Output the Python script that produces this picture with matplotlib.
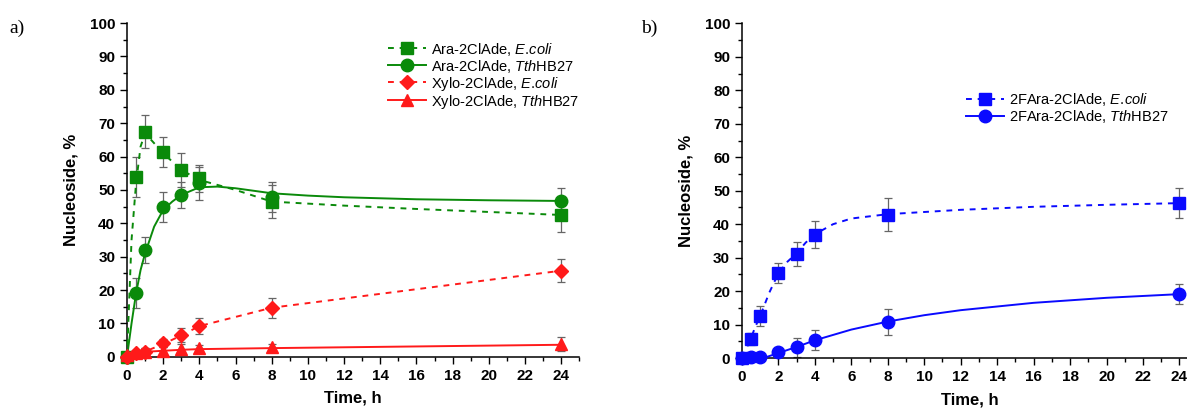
import matplotlib
matplotlib.use('Agg')
import matplotlib.pyplot as plt
from matplotlib.ticker import MultipleLocator

plt.rcParams['font.family'] = ['Liberation Sans', 'DejaVu Sans']
plt.rcParams['mathtext.fontset'] = 'custom'
plt.rcParams['mathtext.it'] = 'Liberation Sans:italic'
plt.rcParams['mathtext.rm'] = 'Liberation Sans'

# ---- panel a: measured points ----
t_a = [0, 0.5, 1, 2, 3, 4, 8, 24]
ara_ecoli = [0, 54, 67.5, 61.5, 56, 53.5, 46.5, 42.5]
ara_ecoli_err = [0, 6, 5, 4.5, 5, 4, 5, 5]
ara_tth = [0, 19, 32, 45, 48.5, 52, 48, 46.7]
ara_tth_err = [0, 4.5, 4, 4.5, 4, 5, 4.5, 4]
xylo_ecoli = [0, 1, 1.5, 4, 6.5, 9.2, 14.7, 25.8]
xylo_ecoli_err = [0, 0.8, 1, 1.2, 2, 2.5, 3, 3.5]
xylo_tth = [0.5, 1.2, 1.5, 1.8, 2.2, 2.5, 2.8, 3.8]
xylo_tth_err = [0, 0.8, 1, 1.2, 1.5, 1, 1, 2]

# panel a: fitted curves
fit_t_ara_ecoli = [0, 0.25, 0.5, 0.75, 1, 1.5, 2, 3, 4, 5, 6, 8, 12, 16, 20, 24]
fit_ara_ecoli = [0, 35, 52, 63, 67, 64, 61, 56, 53, 51.5, 50, 46.5, 45.3, 44.3, 43.4, 42.5]
fit_t_ara_tth = [0, 0.25, 0.5, 0.75, 1, 1.5, 2, 2.5, 3, 4, 5, 6, 8, 10, 12, 16, 20, 24]
fit_ara_tth = [0, 10, 19, 26, 31, 39, 44, 46.5, 48.5, 50.8, 51, 50.5, 49, 48.3, 47.8, 47.2, 46.9, 46.7]
fit_t_xylo_ecoli = [0, 0.5, 1, 2, 3, 4, 8, 24]
fit_xylo_ecoli = [0, 1, 1.6, 3.8, 6.4, 9.2, 14.7, 25.8]
fit_t_xylo_tth = [0, 0.5, 1, 2, 3, 4, 8, 16, 24]
fit_xylo_tth = [0, 1.1, 1.5, 1.8, 2.1, 2.3, 2.6, 3.1, 3.6]

# ---- panel b: measured points ----
t_b = [0, 0.5, 1, 2, 3, 4, 8, 24]
fara_ecoli = [0, 5.7, 12.6, 25.4, 31.1, 36.9, 42.9, 46.3]
fara_ecoli_err = [0, 1.8, 3, 3, 3.5, 4, 5, 4.5]
fara_tth = [0, 0.3, 0.2, 1.7, 3.2, 5.3, 10.8, 19.1]
fara_tth_err = [0, 0.3, 0.3, 1, 2.8, 3, 4, 3]

fit_t_fara_ecoli = [0.3, 0.5, 0.75, 1, 1.5, 2, 2.5, 3, 3.5, 4, 5, 6, 8, 12, 16, 20, 24]
fit_fara_ecoli = [3.5, 6, 9.5, 12.5, 19.5, 25.3, 28.8, 31.3, 34.5, 37, 40, 41.7, 43, 44.3, 45.2, 45.8, 46.3]
fit_t_fara_tth = [0, 1, 1.3, 2, 3, 4, 6, 8, 10, 12, 16, 20, 24]
fit_fara_tth = [0, 0, 0.2, 1.5, 3.3, 5.3, 8.5, 10.9, 12.8, 14.3, 16.5, 18, 19.1]

x_ticks = list(range(0, 25, 2))
y_ticks = list(range(0, 101, 10))

green = '#0a8a0a'
red = '#ff1a1a'
blue = '#0a0aff'
errc = '#666666'

fig = plt.figure(figsize=(11.87, 4.12), dpi=100)
ax1 = fig.add_axes([0.107, 0.134, 0.381, 0.810])
ax2 = fig.add_axes([0.625, 0.131, 0.384, 0.812])


def style(ax):
    ax.set_xlim(0, 25)
    ax.set_ylim(0, 100)
    ax.spines['top'].set_visible(False)
    ax.spines['right'].set_visible(False)
    for sp in ax.spines.values():
        sp.set_linewidth(1.1)
    ax.set_xticks(x_ticks, labels=[str(v) for v in x_ticks], fontweight='bold', fontsize=11)
    ax.set_yticks(y_ticks, labels=[str(v) for v in y_ticks], fontweight='bold', fontsize=11)
    ax.xaxis.set_minor_locator(MultipleLocator(1))
    ax.yaxis.set_minor_locator(MultipleLocator(5))
    ax.tick_params(which='major', length=5, width=1)
    ax.tick_params(which='minor', length=3, width=1)
    ax.set_xlabel('Time, h', fontsize=12, fontweight='bold', labelpad=6)
    ax.set_ylabel('Nucleoside, %', fontsize=12, fontweight='bold', labelpad=8)


def series(ax, t, y, e, ft, fy, color, marker, ls, ms, label):
    ax.errorbar(t, y, yerr=e, fmt='none', ecolor=errc, elinewidth=0.9, capsize=3, capthick=0.9, zorder=2)
    ax.plot(ft, fy, color=color, ls=ls, lw=1.4, zorder=3)
    ax.plot(t, y, marker=marker, ls='none', color=color, ms=ms, zorder=4)
    ax.plot([], [], color=color, ls=ls, lw=1.4, marker=marker, ms=ms, label=label)


ecoli = r'$\mathit{E.\!coli}$'
tth = r'$\mathit{Tth}$HB27'

series(ax1, t_a, ara_ecoli, ara_ecoli_err, fit_t_ara_ecoli, fit_ara_ecoli, green, 's', (0, (3, 3)), 8.5,
       'Ara-2ClAde, ' + ecoli)
series(ax1, t_a, ara_tth, ara_tth_err, fit_t_ara_tth, fit_ara_tth, green, 'o', '-', 9,
       'Ara-2ClAde, ' + tth)
series(ax1, t_a, xylo_ecoli, xylo_ecoli_err, fit_t_xylo_ecoli, fit_xylo_ecoli, red, 'D', (0, (3, 3)), 7.5,
       'Xylo-2ClAde, ' + ecoli)
series(ax1, t_a, xylo_tth, xylo_tth_err, fit_t_xylo_tth, fit_xylo_tth, red, '^', '-', 8.5,
       'Xylo-2ClAde, ' + tth)

series(ax2, t_b, fara_ecoli, fara_ecoli_err, fit_t_fara_ecoli, fit_fara_ecoli, blue, 's', (0, (3, 3)), 8.5,
       '2FAra-2ClAde, ' + ecoli)
series(ax2, t_b, fara_tth, fara_tth_err, fit_t_fara_tth, fit_fara_tth, blue, 'o', '-', 9,
       '2FAra-2ClAde, ' + tth)

style(ax1)
style(ax2)
for ax in (ax1, ax2):
    for p in ax.lines + ax.collections:
        p.set_clip_on(False)

ax1.legend(loc='upper left', bbox_to_anchor=(0.565, 0.965), frameon=False, fontsize=10.5,
           handlelength=2.6, handletextpad=0.3, labelspacing=0.0, borderaxespad=0)
ax2.legend(loc='upper left', bbox_to_anchor=(0.48, 0.815), frameon=False, fontsize=10.5,
           handlelength=2.6, handletextpad=0.3, labelspacing=0.0, borderaxespad=0)

fig.text(0.008, 0.93, 'a)', fontsize=14, family='Liberation Serif', va='center')
fig.text(0.54, 0.93, 'b)', fontsize=14, family='Liberation Serif', va='center')

fig.savefig('out.png', dpi=100)
